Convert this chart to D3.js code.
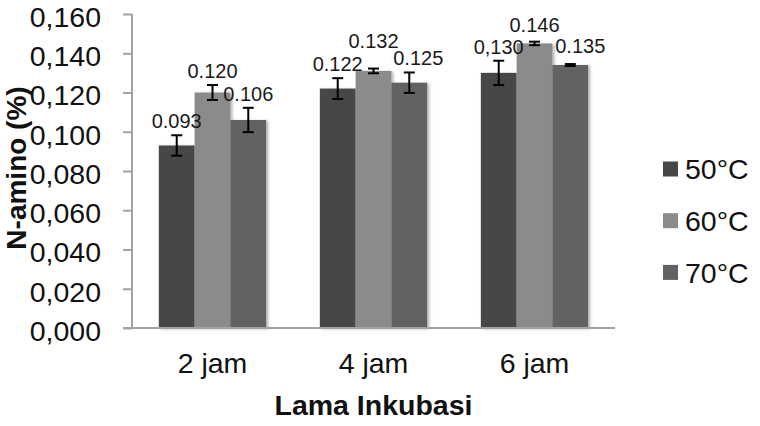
<!DOCTYPE html>
<html>
<head>
<meta charset="utf-8">
<script src="https://cdn.jsdelivr.net/npm/d3@7"></script>
<style>
    body { margin: 0; background: #fff; }
    text { font-family: "Liberation Sans", Arial, sans-serif; fill: #111; }
</style>
</head>
<body>
<div id="chart"></div>
<script>
// Chart data
const categories = ["2 jam", "4 jam", "6 jam"];
const seriesNames = ["50°C", "60°C", "70°C"];
const values50 = [0.093, 0.122, 0.130];
const values60 = [0.120, 0.131, 0.145];
const values70 = [0.106, 0.125, 0.134];
const errors50 = [0.0052, 0.0053, 0.0062];
const errors60 = [0.0038, 0.0012, 0.0009];
const errors70 = [0.0062, 0.0052, 0.0005];
const labels50 = ["0.093", "0.122", "0,130"];
const labels60 = ["0.120", "0.132", "0.146"];
const labels70 = ["0.106", "0.125", "0.135"];
const yTicks = [0, 0.02, 0.04, 0.06, 0.08, 0.10, 0.12, 0.14, 0.16];

const colors = ["#474747", "#8b8b8b", "#626262"];
const seriesValues = [values50, values60, values70];
const seriesErrors = [errors50, errors60, errors70];
const seriesLabels = [labels50, labels60, labels70];

const width = 760, height = 426;
const margin = { left: 132, right: 145, top: 14, bottom: 98 };

const svg = d3.select("#chart")
    .append("svg")
    .attr("width", width)
    .attr("height", height);

const defs = svg.append("defs");
defs.append("filter")
    .attr("id", "shadow")
    .attr("x", "-10%").attr("y", "-10%")
    .attr("width", "130%").attr("height", "130%")
    .append("feDropShadow")
    .attr("dx", 2).attr("dy", 1)
    .attr("stdDeviation", 1.5)
    .attr("flood-color", "#000")
    .attr("flood-opacity", 0.3);

const x0 = d3.scaleBand()
    .domain(categories)
    .range([margin.left, width - margin.right])
    .paddingInner(0)
    .paddingOuter(0);

// Excel style: gap width 150% of one bar
const barW = x0.bandwidth() / 4.5;
const x1 = d3.scaleBand()
    .domain(seriesNames)
    .range([0.75 * barW, 3.75 * barW]);

const y = d3.scaleLinear()
    .domain([0, 0.16])
    .range([height - margin.bottom, margin.top]);

// flatten
const bars = [];
categories.forEach((cat, i) => {
    seriesNames.forEach((s, j) => {
        bars.push({
            cat, s, j,
            value: seriesValues[j][i],
            err: seriesErrors[j][i],
            label: seriesLabels[j][i]
        });
    });
});

// bars
svg.append("g")
    .selectAll("rect")
    .data(bars)
    .join("rect")
    .attr("x", d => x0(d.cat) + x1(d.s))
    .attr("y", d => y(d.value))
    .attr("width", x1.bandwidth())
    .attr("height", d => y(0) - y(d.value))
    .attr("fill", d => colors[d.j])
    .attr("filter", "url(#shadow)");

// y axis
const yAxis = d3.axisLeft(y)
    .tickValues(yTicks)
    .tickSize(9)
    .tickPadding(22)
    .tickFormat(d => d3.format(".3f")(d).replace(".", ","));

const gy = svg.append("g")
    .attr("transform", `translate(${margin.left},0)`)
    .call(yAxis);
gy.select(".domain").attr("stroke", "#a3a3a3").attr("stroke-width", 2).attr("d", `M0,${y(0.16)}V${y(0)}`);
gy.selectAll(".tick line").attr("stroke", "#a3a3a3").attr("stroke-width", 2);
gy.selectAll(".tick text")
    .attr("font-size", 28.5)
    .attr("dy", "0.43em")
    .style("fill", "#111");

// x axis line
svg.append("line")
    .attr("x1", margin.left - 9)
    .attr("x2", width - margin.right)
    .attr("y1", y(0))
    .attr("y2", y(0))
    .attr("stroke", "#a3a3a3")
    .attr("stroke-width", 2);

// x labels
svg.append("g")
    .selectAll("text")
    .data(categories)
    .join("text")
    .attr("x", d => x0(d) + x0.bandwidth() / 2)
    .attr("y", 373)
    .attr("text-anchor", "middle")
    .attr("font-size", 28.5)
    .text(d => d);

// error bars
const errG = svg.append("g")
    .attr("stroke", "#000")
    .attr("stroke-width", 2);

bars.forEach(d => {
    const cx = x0(d.cat) + x1(d.s) + x1.bandwidth() / 2;
    const yt = y(d.value + d.err), yb = y(d.value - d.err);
    errG.append("line").attr("x1", cx).attr("x2", cx).attr("y1", yt).attr("y2", yb);
    errG.append("line").attr("x1", cx - 5.5).attr("x2", cx + 5.5).attr("y1", yt).attr("y2", yt);
    errG.append("line").attr("x1", cx - 5.5).attr("x2", cx + 5.5).attr("y1", yb).attr("y2", yb);
});

// data labels (a few were moved by hand in the original)
const labelShift = {
    "4 jam|60°C": [0, -14],
    "4 jam|70°C": [9, 0],
    "6 jam|70°C": [10, -4],
    "6 jam|60°C": [0, -3]
};
svg.append("g")
    .selectAll("text")
    .data(bars)
    .join("text")
    .attr("x", d => x0(d.cat) + x1(d.s) + x1.bandwidth() / 2 + (labelShift[d.cat + "|" + d.s] || [0, 0])[0])
    .attr("y", d => y(d.value + d.err) - 7 + (labelShift[d.cat + "|" + d.s] || [0, 0])[1])
    .attr("text-anchor", "middle")
    .attr("font-size", 20)
    .style("fill", "#1a1a1a")
    .text(d => d.label);

// axis titles
svg.append("text")
    .attr("x", (x0.range()[0] + x0.range()[1]) / 2)
    .attr("y", 415)
    .attr("text-anchor", "middle")
    .attr("font-size", 28.5)
    .attr("font-weight", "bold")
    .text("Lama Inkubasi");

svg.append("text")
    .attr("transform", "translate(26,168) rotate(-90)")
    .attr("text-anchor", "middle")
    .attr("font-size", 28)
    .attr("font-weight", "bold")
    .text("N-amino (%)");

// legend
const legend = svg.append("g")
    .selectAll("g")
    .data(seriesNames)
    .join("g")
    .attr("transform", (d, i) => `translate(663,${169 + i * 51.7})`);

legend.append("rect")
    .attr("x", 0)
    .attr("y", -7.5)
    .attr("width", 15)
    .attr("height", 15)
    .attr("fill", (d, i) => colors[i]);

legend.append("text")
    .attr("x", 22)
    .attr("y", 0)
    .attr("dy", "0.36em")
    .attr("font-size", 28.5)
    .text(d => d);
</script>
</body>
</html>
